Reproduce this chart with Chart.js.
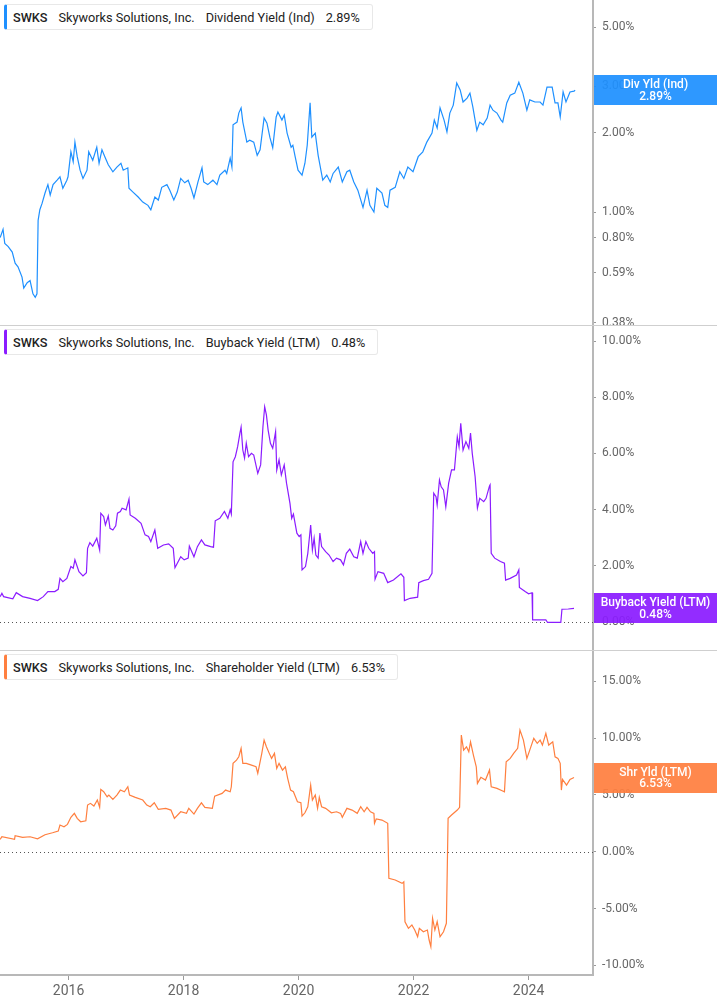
<!DOCTYPE html>
<html><head><meta charset="utf-8">
<script src="https://cdn.jsdelivr.net/npm/chart.js@4.4.1/dist/chart.umd.min.js"></script>
<style>
body{margin:0;background:#fff;}
#wrap{position:relative;width:717px;height:1005px;overflow:hidden;font-family:Roboto,'Noto Sans',sans-serif;}
canvas{position:absolute;left:0;}
.sep{position:absolute;left:0;width:717px;height:1px;background:#cfcfcf;}
.leg{position:absolute;left:4px;height:26px;box-sizing:border-box;border:1px solid #e8e8e8;border-left:3px solid;border-radius:3px;background:#fff;display:flex;align-items:center;padding:0 12px 0 6px;font-size:12.7px;color:#222;white-space:nowrap;}
.leg span{margin-right:11px}
.leg span:last-child{margin-right:0}
.leg .tk{font-weight:500}
</style></head>
<body>
<div id="wrap">
  <canvas id="c1" width="717" height="325" style="top:0"></canvas>
  <canvas id="c2" width="717" height="325" style="top:325px"></canvas>
  <canvas id="c3" width="717" height="355" style="top:650px"></canvas>
  <div class="sep" style="top:325px"></div>
  <div class="sep" style="top:650px"></div>
  <div class="leg" style="top:4px;border-left-color:#1e90ff"><span class="tk">SWKS</span><span>Skyworks Solutions, Inc.</span><span>Dividend Yield (Ind)</span><span id="v1"></span></div>
  <div class="leg" style="top:329px;border-left-color:#8b1cff"><span class="tk">SWKS</span><span>Skyworks Solutions, Inc.</span><span>Buyback Yield (LTM)</span><span id="v2"></span></div>
  <div class="leg" style="top:654px;border-left-color:#ff7f3f"><span class="tk">SWKS</span><span>Skyworks Solutions, Inc.</span><span>Shareholder Yield (LTM)</span><span id="v3"></span></div>
</div>
<script>
// ---- Data (decimal years, yield in %) ----
const xTicks = [2016, 2018, 2020, 2022, 2024];
const divTicks = [0.38, 0.59, 0.8, 1, 2, 3, 5];
const bbTicks = [0, 2, 4, 6, 8, 10];
const shTicks = [-10, -5, 0, 5, 10, 15];

const divDates = [2014.81,2014.86,2014.89,2014.95,2015.02,2015.07,2015.12,2015.19,2015.22,2015.28,
2015.33,2015.38,2015.42,2015.45,2015.47,2015.50,2015.54,2015.59,2015.64,2015.68,
2015.73,2015.80,2015.85,2015.90,2015.97,2015.99,2016.04,2016.08,2016.11,2016.15,
2016.20,2016.25,2016.32,2016.35,2016.42,2016.49,2016.53,2016.58,2016.63,2016.69,
2016.77,2016.84,2016.91,2016.95,2017.03,2017.05,2017.12,2017.21,2017.29,2017.38,
2017.43,2017.50,2017.56,2017.62,2017.71,2017.76,2017.83,2017.89,2017.95,2018.02,
2018.08,2018.13,2018.18,2018.25,2018.32,2018.35,2018.42,2018.51,2018.58,2018.63,
2018.72,2018.75,2018.81,2018.84,2018.86,2018.93,2018.96,2019.00,2019.03,2019.10,
2019.15,2019.22,2019.28,2019.33,2019.40,2019.45,2019.50,2019.55,2019.61,2019.64,
2019.71,2019.75,2019.80,2019.87,2019.90,2019.94,2019.99,2020.06,2020.11,2020.15,
2020.20,2020.23,2020.29,2020.34,2020.42,2020.49,2020.55,2020.60,2020.69,2020.76,
2020.84,2020.89,2020.96,2021.03,2021.12,2021.19,2021.24,2021.31,2021.36,2021.45,
2021.50,2021.55,2021.59,2021.68,2021.76,2021.83,2021.90,2021.99,2022.08,2022.16,
2022.23,2022.32,2022.36,2022.41,2022.46,2022.53,2022.58,2022.63,2022.69,2022.75,
2022.81,2022.86,2022.93,2022.98,2023.03,2023.10,2023.15,2023.21,2023.28,2023.33,
2023.38,2023.45,2023.52,2023.55,2023.62,2023.68,2023.76,2023.83,2023.90,2023.97,
2024.02,2024.11,2024.20,2024.25,2024.32,2024.41,2024.46,2024.51,2024.55,2024.60,
2024.65,2024.72,2024.79,2024.81];
const divYield = [0.80,0.86,0.76,0.74,0.705,0.64,0.62,0.567,0.515,0.54,
0.55,0.49,0.475,0.49,0.93,1.02,1.08,1.18,1.27,1.16,
1.27,1.32,1.36,1.23,1.32,1.36,1.69,1.55,1.84,1.62,
1.44,1.34,1.44,1.69,1.57,1.76,1.53,1.72,1.62,1.51,
1.42,1.48,1.53,1.44,1.47,1.23,1.19,1.14,1.09,1.06,
1.02,1.14,1.11,1.24,1.27,1.21,1.11,1.19,1.34,1.29,
1.32,1.23,1.13,1.30,1.47,1.30,1.27,1.32,1.27,1.38,
1.44,1.40,1.60,1.48,2.14,2.19,2.37,2.48,2.19,1.84,
1.87,1.84,1.64,1.72,2.27,2.17,1.92,1.75,2.29,2.39,
2.23,2.33,1.99,1.76,1.79,1.62,1.44,1.38,1.53,1.79,
2.59,1.92,1.99,1.64,1.32,1.38,1.30,1.40,1.48,1.30,
1.42,1.44,1.30,1.21,1.04,1.21,1.06,1.00,1.23,1.18,
1.06,1.04,1.21,1.24,1.42,1.34,1.48,1.42,1.62,1.69,
1.84,1.99,2.23,2.08,2.48,2.23,2.01,2.37,2.54,3.08,
2.90,2.61,2.70,2.82,2.50,2.04,2.19,2.14,2.27,2.54,
2.43,2.37,2.23,2.19,2.59,2.77,2.82,3.10,2.82,2.43,
2.66,2.61,2.61,2.54,2.97,2.97,2.59,2.59,2.29,2.85,
2.61,2.85,2.87,2.89];

const bbDates = [2014.81,2014.84,2014.87,2015.03,2015.09,2015.20,2015.33,2015.46,2015.56,2015.64,
2015.76,2015.82,2015.85,2015.90,2015.97,2016.04,2016.08,2016.11,2016.18,2016.25,
2016.31,2016.33,2016.37,2016.42,2016.49,2016.54,2016.56,2016.61,2016.64,2016.69,
2016.72,2016.77,2016.82,2016.85,2016.90,2016.93,2017.00,2017.05,2017.07,2017.16,
2017.26,2017.33,2017.39,2017.43,2017.50,2017.55,2017.65,2017.74,2017.82,2017.85,
2017.95,2018.01,2018.08,2018.10,2018.18,2018.24,2018.31,2018.37,2018.47,2018.52,
2018.55,2018.63,2018.71,2018.77,2018.81,2018.83,2018.86,2018.90,2018.94,2018.98,
2019.00,2019.03,2019.06,2019.09,2019.13,2019.18,2019.22,2019.29,2019.34,2019.38,
2019.41,2019.44,2019.47,2019.51,2019.55,2019.60,2019.62,2019.66,2019.70,2019.75,
2019.79,2019.85,2019.88,2019.91,2019.97,2020.01,2020.04,2020.06,2020.12,2020.16,
2020.21,2020.24,2020.27,2020.30,2020.34,2020.37,2020.40,2020.47,2020.53,2020.60,
2020.66,2020.73,2020.78,2020.83,2020.89,2020.96,2021.02,2021.08,2021.12,2021.17,
2021.22,2021.29,2021.32,2021.33,2021.38,2021.48,2021.55,2021.65,2021.78,2021.83,
2021.84,2021.94,2022.07,2022.09,2022.17,2022.26,2022.32,2022.35,2022.39,2022.41,
2022.45,2022.48,2022.52,2022.56,2022.61,2022.66,2022.71,2022.76,2022.79,2022.82,
2022.86,2022.91,2022.96,2022.99,2023.02,2023.07,2023.11,2023.15,2023.22,2023.26,
2023.32,2023.33,2023.35,2023.41,2023.51,2023.58,2023.60,2023.68,2023.79,2023.83,
2023.84,2023.94,2024.00,2024.06,2024.07,2024.30,2024.33,2024.56,2024.58,2024.69,
2024.79];
const bbYield = [0.90,1.02,0.90,0.82,1.04,0.90,0.84,0.76,0.90,1.08,
1.08,1.16,1.55,1.43,1.55,1.97,1.91,2.21,1.79,1.64,
1.75,2.62,2.82,2.70,2.98,2.56,3.87,3.75,3.45,3.77,
3.33,3.27,3.42,3.87,3.93,4.05,3.99,4.37,3.81,3.69,
3.51,3.10,3.04,2.86,3.27,2.62,2.74,2.78,2.62,1.93,
2.32,2.21,2.27,2.70,2.32,2.68,2.92,2.74,2.68,2.66,
3.60,3.69,3.93,3.69,3.99,3.84,5.70,5.88,6.24,6.72,
6.93,6.12,5.83,6.36,5.88,6.00,5.94,5.29,5.59,6.95,
7.66,7.37,6.83,6.36,6.18,6.77,5.41,5.77,5.23,5.59,
4.94,4.22,3.69,3.84,3.16,3.04,3.10,1.85,1.97,2.44,
3.45,2.56,2.98,2.38,2.27,3.16,2.68,2.50,2.38,2.15,
2.27,2.21,2.03,2.44,2.59,2.32,2.27,2.86,2.44,2.86,
2.62,2.44,2.50,1.52,1.79,1.73,1.40,1.49,1.71,1.59,
0.76,0.84,0.88,1.40,1.47,1.52,1.73,4.58,4.46,4.16,
5.05,4.81,4.70,4.10,4.94,5.41,5.41,6.59,6.24,7.07,
6.12,6.42,6.18,6.72,6.00,5.17,4.05,4.40,4.28,4.40,
4.84,4.88,2.44,2.27,2.15,2.09,1.49,1.55,1.67,1.85,
1.23,1.08,1.00,1.04,0.07,0.07,-0.02,-0.02,0.45,0.46,
0.48];

const shDates = [2014.81,2014.84,2015.06,2015.07,2015.20,2015.33,2015.46,2015.59,2015.72,2015.82,
2015.85,2015.92,2015.98,2016.04,2016.10,2016.15,2016.21,2016.30,2016.33,2016.38,
2016.44,2016.50,2016.54,2016.56,2016.61,2016.67,2016.70,2016.77,2016.84,2016.90,
2016.97,2017.03,2017.06,2017.16,2017.29,2017.36,2017.42,2017.49,2017.56,2017.69,
2017.78,2017.84,2017.95,2018.05,2018.09,2018.18,2018.24,2018.31,2018.37,2018.50,
2018.54,2018.67,2018.73,2018.81,2018.83,2018.86,2018.92,2018.96,2019.00,2019.03,
2019.09,2019.18,2019.26,2019.29,2019.36,2019.40,2019.44,2019.49,2019.53,2019.58,
2019.62,2019.66,2019.72,2019.77,2019.81,2019.86,2019.91,2019.98,2020.04,2020.06,
2020.11,2020.16,2020.21,2020.24,2020.29,2020.33,2020.36,2020.40,2020.47,2020.57,
2020.66,2020.73,2020.76,2020.84,2020.93,2021.02,2021.08,2021.14,2021.19,2021.25,
2021.31,2021.32,2021.35,2021.45,2021.55,2021.57,2021.68,2021.80,2021.83,2021.85,
2021.91,2021.97,2022.02,2022.07,2022.10,2022.17,2022.24,2022.27,2022.30,2022.33,
2022.37,2022.41,2022.46,2022.52,2022.57,2022.60,2022.66,2022.76,2022.80,2022.83,
2022.87,2022.92,2022.96,2022.99,2023.04,2023.09,2023.11,2023.17,2023.25,2023.32,
2023.35,2023.45,2023.54,2023.58,2023.61,2023.68,2023.74,2023.81,2023.85,2023.91,
2023.97,2024.02,2024.09,2024.15,2024.20,2024.24,2024.30,2024.35,2024.42,2024.46,
2024.51,2024.55,2024.57,2024.59,2024.66,2024.72,2024.79];
const shYield = [1.09,1.32,1.09,1.41,1.27,1.32,1.14,1.50,1.67,1.82,
2.35,2.20,2.41,3.03,3.38,2.94,2.64,2.73,4.11,4.26,
4.02,4.55,3.91,5.49,5.28,4.84,4.99,4.61,4.99,5.43,
5.28,5.72,4.99,4.79,4.55,4.11,3.96,4.31,3.73,3.82,
3.67,2.94,3.52,3.38,3.82,3.32,3.82,4.31,3.91,3.82,
4.90,5.14,5.43,5.28,5.72,7.78,8.07,8.36,9.10,7.78,
7.78,7.63,7.48,6.90,8.66,9.83,9.24,8.66,8.22,8.66,
7.34,7.78,7.19,7.48,6.46,5.43,5.28,4.40,4.31,3.14,
3.43,3.96,5.87,4.55,4.99,3.82,4.79,3.96,3.82,3.43,
3.52,3.38,3.03,3.82,3.67,3.38,3.96,3.52,3.91,3.52,
3.38,2.50,2.88,2.79,2.50,-2.34,-2.49,-2.78,-2.64,-6.16,
-6.74,-6.45,-6.89,-7.48,-6.74,-7.04,-6.89,-7.77,-8.36,-5.86,
-6.89,-6.16,-7.48,-7.04,-6.30,2.94,3.23,3.67,3.91,10.27,
8.95,9.24,8.80,9.68,8.51,7.48,6.02,6.55,6.31,7.19,
5.72,5.58,5.37,5.28,7.92,8.22,8.66,9.10,10.71,9.83,
8.22,8.95,9.98,9.54,9.83,9.39,10.42,9.39,9.68,8.36,
8.22,7.78,5.43,6.37,5.87,6.37,6.53];

// ---- Plugins ----
const zeroLine = {
  id: 'zeroLine',
  beforeDatasetsDraw(chart, args, opts) {
    if (!opts.show) return;
    const y = Math.round(chart.scales.y.getPixelForValue(0)) + 0.5;
    const { left, right } = chart.chartArea;
    const ctx = chart.ctx;
    ctx.save();
    ctx.strokeStyle = '#555';
    ctx.lineWidth = 1;
    ctx.setLineDash([1, 3]);
    ctx.beginPath(); ctx.moveTo(left, y); ctx.lineTo(right, y); ctx.stroke();
    ctx.restore();
  }
};
const badge = {
  id: 'badge',
  afterDraw(chart, args, opts) {
    if (!opts.label) return;
    const d = chart.data.datasets[0].data;
    const last = d[d.length - 1].y;
    const y = chart.scales.y.getPixelForValue(last);
    const x0 = chart.chartArea.right + 1;
    const w = chart.width - x0;
    const ctx = chart.ctx;
    ctx.save();
    ctx.globalAlpha = 0.93;
    ctx.fillStyle = opts.color;
    ctx.fillRect(x0, Math.round(y - 15), w, 30);
    ctx.globalAlpha = 1;
    ctx.fillStyle = '#fff';
    ctx.font = '500 12px Roboto';
    ctx.textAlign = 'center';
    ctx.textBaseline = 'middle';
    const cx = x0 + w / 2;
    ctx.fillText(opts.label, cx, y - 5);
    ctx.fillText(last.toFixed(2) + '%', cx, y + 6.5);
    ctx.restore();
  }
};
Chart.register(zeroLine, badge);
Chart.defaults.font.family = 'Roboto';

const X_MIN = 2014.807, X_MAX = 2025.12;

function yAxis(type, min, max, ticks) {
  return {
    type: type, position: 'right', min: min, max: max,
    border: { display: true, color: '#b8b8b8', width: 2 },
    grid: { display: true, drawOnChartArea: false, drawTicks: true, tickLength: 3, color: '#999' },
    ticks: { color: '#666', font: { size: 12 }, padding: 6, autoSkip: false,
      callback: v => Number(v).toFixed(2) + '%' },
    afterBuildTicks: s => { s.ticks = ticks.map(v => ({ value: v })); },
    afterFit: s => { s.width = 124; s.paddingTop = 0; s.paddingBottom = 0; }
  };
}

function xAxis(show) {
  return {
    type: 'linear', min: X_MIN, max: X_MAX, display: show,
    border: { display: true, color: '#b8b8b8', width: 2 },
    grid: { display: true, drawOnChartArea: false, drawTicks: true, tickLength: 5, color: '#999' },
    ticks: { color: '#666', font: { size: 14 }, padding: 3, autoSkip: false, maxRotation: 0,
      callback: v => String(v) },
    afterBuildTicks: s => { s.ticks = xTicks.map(v => ({ value: v })); },
    afterFit: s => {
      s.height = show ? 30 : 0;
      s.paddingLeft = 0; s.paddingRight = 0; s.paddingTop = 0; s.paddingBottom = 0;
    }
  };
}

function make(id, dates, vals, color, yCfg, label, zero, showX) {
  return new Chart(document.getElementById(id), {
    type: 'line',
    data: { datasets: [{
      data: dates.map((d, i) => ({ x: d, y: vals[i] })),
      borderColor: color, borderWidth: 1.2, pointRadius: 0, tension: 0, fill: false
    }] },
    options: {
      responsive: false, animation: false, devicePixelRatio: 1,
      layout: { padding: 0 },
      scales: { x: xAxis(showX), y: yCfg },
      plugins: {
        legend: { display: false }, tooltip: { enabled: false },
        zeroLine: { show: zero },
        badge: { label: label, color: color }
      }
    }
  });
}

make('c1', divDates, divYield, '#1e90ff', yAxis('logarithmic', 0.3733, 6.353, divTicks), 'Div Yld (Ind)', false, false);
make('c2', bbDates, bbYield, '#8b1cff', yAxis('linear', -1.0, 10.57, bbTicks), 'Buyback Yield (LTM)', true, false);
make('c3', shDates, shYield, '#ff7f3f', yAxis('linear', -10.85, 17.76, shTicks), 'Shr Yld (LTM)', true, true);

document.getElementById('v1').textContent = divYield[divYield.length - 1].toFixed(2) + '%';
document.getElementById('v2').textContent = bbYield[bbYield.length - 1].toFixed(2) + '%';
document.getElementById('v3').textContent = shYield[shYield.length - 1].toFixed(2) + '%';
</script>
</body></html>
